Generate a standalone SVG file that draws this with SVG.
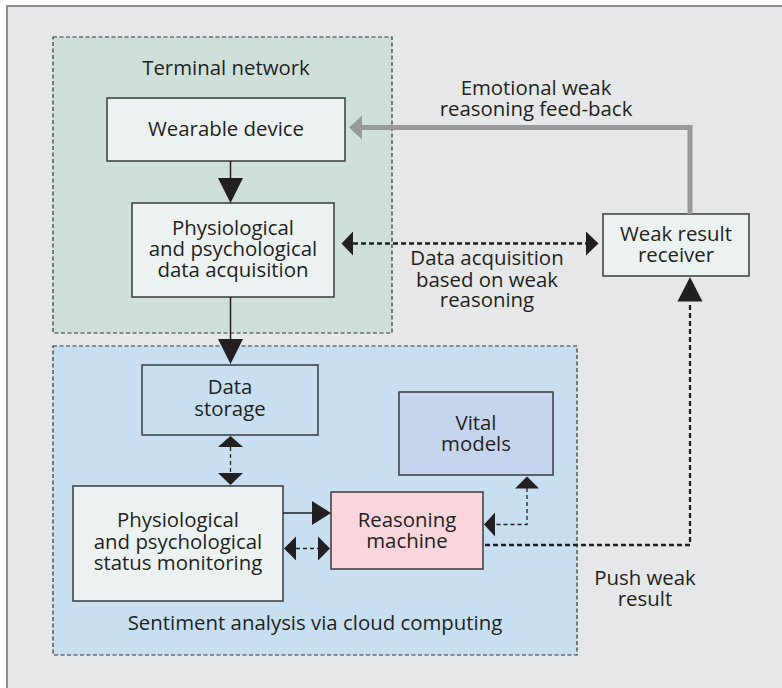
<svg xmlns="http://www.w3.org/2000/svg" width="782" height="688" viewBox="0 0 782 688">
  <style>
    .frame { fill: #e6e7e9; stroke: #8e8e8e; stroke-width: 2; }
    .zone { stroke: #333; stroke-width: 1.2; stroke-dasharray: 4 2.5; }
    .box { stroke: #3a3a3a; stroke-width: 1.5; }
    .light { fill: #ecf2f2; }
    text { font-family: "Open Sans", "Liberation Sans", sans-serif; font-size: 20.4px; fill: #231f20; text-anchor: middle; }
    .solid { fill: none; stroke: #231f20; stroke-width: 1.5; }
    .thin-dash { fill: none; stroke: #231f20; stroke-width: 1.3; stroke-dasharray: 4 3; }
    .thick-dash { fill: none; stroke: #231f20; stroke-width: 2.3; stroke-dasharray: 5 3; }
    .head { fill: #231f20; }
    .feedback { fill: none; stroke: #999; stroke-width: 5; }
    .gray-head { fill: #999; }
  </style>

  <!-- outer panel -->
  <rect class="frame" x="7" y="6" width="800" height="700"/>

  <!-- containers -->
  <g id="terminal-network">
    <rect class="zone" x="53" y="37" width="339" height="296" fill="#cfe0db"/>
    <text x="226" y="75">Terminal network</text>
  </g>
  <g id="cloud-computing">
    <rect class="zone" x="53" y="346" width="524" height="309" fill="#c8dff2"/>
    <text x="315" y="630">Sentiment analysis via cloud computing</text>
  </g>

  <!-- nodes -->
  <g id="wearable-device">
    <rect class="box light" x="107" y="98" width="238" height="63"/>
    <text x="226" y="136">Wearable device</text>
  </g>
  <g id="data-acquisition">
    <rect class="box light" x="132" y="203" width="202" height="94"/>
    <text x="233" y="235">Physiological</text>
    <text x="233" y="256">and psychological</text>
    <text x="233" y="277">data acquisition</text>
  </g>
  <g id="weak-result-receiver">
    <rect class="box light" x="603" y="214" width="146" height="62"/>
    <text x="676" y="241">Weak result</text>
    <text x="676" y="262">receiver</text>
  </g>
  <g id="data-storage">
    <rect class="box" x="142" y="365" width="176" height="70" fill="#c8dff2"/>
    <text x="230" y="394">Data</text>
    <text x="230" y="416">storage</text>
  </g>
  <g id="status-monitoring">
    <rect class="box light" x="73" y="486" width="210" height="115"/>
    <text x="178" y="527">Physiological</text>
    <text x="178" y="549">and psychological</text>
    <text x="178" y="570">status monitoring</text>
  </g>
  <g id="reasoning-machine">
    <rect class="box" x="331" y="492" width="152" height="77" fill="#f9d5dc"/>
    <text x="407" y="527">Reasoning</text>
    <text x="407" y="548">machine</text>
  </g>
  <g id="vital-models">
    <rect class="box" x="399" y="392" width="154" height="83" fill="#c6d5ee"/>
    <text x="476" y="430">Vital</text>
    <text x="476" y="451">models</text>
  </g>

  <!-- connectors -->
  <g id="connectors">
    <!-- wearable device -> acquisition -->
    <line class="solid" x1="230.5" y1="161" x2="230.5" y2="180"/>
    <polygon class="head" points="218,178 243,178 230.5,203"/>

    <!-- acquisition -> data storage -->
    <line class="solid" x1="230.5" y1="297" x2="230.5" y2="341"/>
    <polygon class="head" points="218,339 243,339 230.5,364"/>

    <!-- data storage <-> status monitoring -->
    <line class="thin-dash" x1="230.5" y1="447" x2="230.5" y2="473"/>
    <polygon class="head" points="218,447 243,447 230.5,436"/>
    <polygon class="head" points="218,473 243,473 230.5,485"/>

    <!-- status monitoring -> reasoning machine -->
    <line class="solid" x1="283" y1="513" x2="313" y2="513"/>
    <polygon class="head" points="312,501 312,525 331,513"/>

    <!-- status monitoring <-> reasoning machine -->
    <line class="thin-dash" x1="296" y1="548.5" x2="318" y2="548.5"/>
    <polygon class="head" points="296,536.5 296,560.5 284,548.5"/>
    <polygon class="head" points="318,536.5 318,560.5 330,548.5"/>

    <!-- vital models <-> reasoning machine -->
    <path class="thin-dash" d="M527,488 V524.5 H495"/>
    <polygon class="head" points="515,488.5 539,488.5 527,476.5"/>
    <polygon class="head" points="495,512.5 495,536.5 484,524.5"/>

    <!-- push weak result -->
    <path class="thick-dash" d="M485,545 H690 V302"/>
    <polygon class="head" points="677.5,301.5 702.5,301.5 690,277"/>
    <text x="645" y="585">Push weak</text>
    <text x="645" y="606">result</text>

    <!-- data acquisition based on weak reasoning -->
    <line class="thick-dash" x1="353" y1="243.5" x2="586" y2="243.5"/>
    <polygon class="head" points="353,231.5 353,255.5 341.5,243.5"/>
    <polygon class="head" points="586,231.5 586,255.5 598.5,243.5"/>
    <text x="487" y="265">Data acquisition</text>
    <text x="487" y="287">based on weak</text>
    <text x="487" y="307">reasoning</text>

    <!-- emotional weak reasoning feed-back -->
    <path class="feedback" d="M690,214 V127.5 H361"/>
    <polygon class="gray-head" points="362,115.5 362,139.5 349,127.5"/>
    <text x="536" y="95">Emotional weak</text>
    <text x="536" y="116">reasoning feed-back</text>
  </g>
</svg>
